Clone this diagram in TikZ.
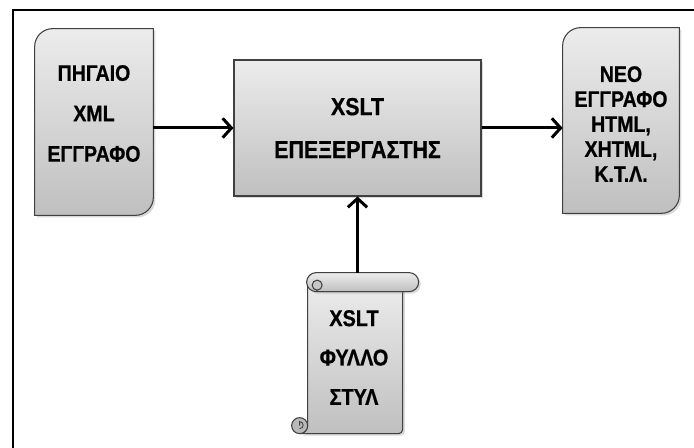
\documentclass[tikz,border=0pt]{standalone}
\usepackage{fontspec}
\setmainfont{Liberation Sans}
\newfontfamily\diagfont[FakeStretch=0.87, BoldFeatures={FakeBold=0.7}]{Liberation Sans}
\usetikzlibrary{arrows.meta,calc,positioning,shadows}

\tikzset{
  boxline/.style={draw=black!75, line width=0.6pt, top color=gray!15, bottom color=gray!50,
    drop shadow={shadow xshift=1.2pt, shadow yshift=-1.2pt, opacity=0.3}},
  holder/.style={inner sep=0pt},
  flow/.style={line width=1.7pt, -{Straight Barb[length=5pt,width=11pt]}},
  boxtext/.style={align=center, inner sep=0pt},
}

% document shape: rounded top-left and bottom-right corners round an empty node
\newcommand\docpath[1]{%
  \path[boxline] (#1.south west) -- ($(#1.north west)+(0,-0.36)$)
    arc[start angle=180,end angle=90,radius=0.36cm] -- (#1.north east)
    -- ($(#1.south east)+(0,0.36)$)
    arc[start angle=0,end angle=-90,radius=0.36cm] -- cycle;}

\begin{document}
\begin{tikzpicture}
\clip (0,0) rectangle (13.88,8.96);
% outer frame
\draw[line width=1.2pt] (0.26,-1) rectangle (15,8.76);

% source and result documents
\node[holder, minimum width=2.36cm, minimum height=3.72cm] (src) at (1.88,6.52) {};
\node[holder, minimum width=2.32cm, minimum height=3.70cm] (out) at (12.42,6.55) {};
\docpath{src}
\docpath{out}
\node[boxtext, font=\diagfont\bfseries\fontsize{12.8}{23}\selectfont] (srctext)
  at ($(src)+(0,0.17)$) {ΠΗΓΑΙΟ\\XML\\ΕΓΓΡΑΦΟ};
\node[boxtext, font=\diagfont\bfseries\fontsize{12.8}{14.2}\selectfont] (outtext)
  at ($(out)+(0,-0.07)$) {ΝΕΟ\\ΕΓΓΡΑΦΟ\\HTML,\\XHTML,\\Κ.Τ.Λ.};

% processor
\node[boxline, boxtext, minimum width=4.94cm, minimum height=2.72cm,
  font=\diagfont\bfseries\fontsize{14}{24.4}\selectfont] (proc) at (7.15,6.40)
  {XSLT\\ΕΠΕΞΕΡΓΑΣΤΗΣ};

% style sheet scroll
\node[holder, minimum width=1.90cm, minimum height=3.22cm] (xsl) at (7.11,1.89) {};
\begin{scope}[shift={(xsl.north west)}]
  % body
  \path[boxline] (0,-0.19) -- (0,-3.06) arc[start angle=0,end angle=-90,radius=0.16cm]
    -- (1.82,-3.22) arc[start angle=-90,end angle=0,radius=0.08cm] -- (1.90,-0.19) -- cycle;
  % bottom curl
  \draw[black!75, line width=0.6pt, fill=gray!55] (-0.16,-3.06) circle[radius=0.16cm];
  \draw[black!75, line width=0.5pt] (-0.16,-3.06) -- (-0.16,-2.98)
    arc[start angle=90,end angle=-90,radius=0.07cm];
  % top roll
  \path[boxline] (0.17,0) -- (2.03,0) arc[start angle=90,end angle=-90,radius=0.19cm]
    -- (0.17,-0.38) arc[start angle=270,end angle=90,radius=0.19cm] -- cycle;
  \draw[black!75, line width=0.6pt, fill=gray!45] (0.19,-0.25) circle[radius=0.1cm];
  \draw[black!75, line width=0.6pt] (0.17,-0.38) -- (0.19,-0.35);
\end{scope}
\node[boxtext, font=\diagfont\bfseries\fontsize{13}{22.4}\selectfont] (xsltext)
  at ($(xsl)+(-0.03,-0.08)$) {XSLT\\ΦΥΛΛΟ\\ΣΤΥΛ};

% connectors
\draw[flow] (src.east |- proc.west) -- (proc.west);
\draw[flow] (proc.east) -- (proc.east -| out.west);
\draw[flow] (proc.south |- xsl.north) -- (proc.south);
\end{tikzpicture}
\end{document}
